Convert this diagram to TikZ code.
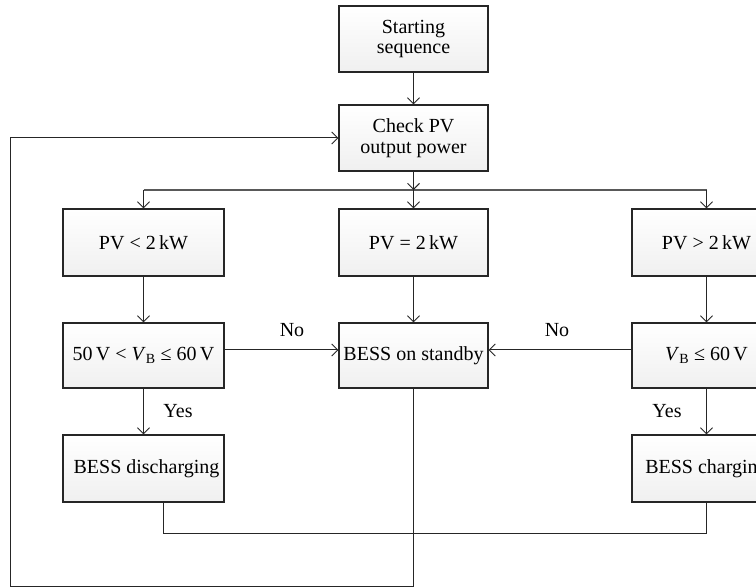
\documentclass[tikz,border=0pt]{standalone}
\usepackage{fontspec}
\setmainfont{Liberation Serif}
\usetikzlibrary{arrows.meta,calc}
\begin{document}
\begin{tikzpicture}[x=1pt,y=-1pt,
  box/.style={draw=black!85, line width=1.1pt, top color=white, bottom color=black!6,
    inner sep=0pt, minimum height=66pt, font=\fontsize{20}{20.5}\selectfont, align=center},
  wbox/.style={box, minimum width=161pt},
  nbox/.style={box, minimum width=149pt},
  conn/.style={line width=1pt, draw=black!85},
  arr/.style={conn, -{Straight Barb[length=6pt,width=12pt]}},
  busline/.style={line width=1.8pt, draw=black!65},
  lbl/.style={font=\fontsize{20}{21}\selectfont}]
\useasboundingbox (0,0) rectangle (756,588);
\clip (0,0) rectangle (756,588);

\node[nbox] (start) at (413.5,39) {Starting\\sequence};
\node[nbox] (check) at (413.5,138) {Check PV\\output power};
\node[wbox, minimum height=67pt] (pvl) at (143.5,242.5) {PV < 2\,kW};
\node[nbox, minimum height=67pt] (pve) at (413.5,242.5) {PV = 2\,kW};
\node[nbox, minimum height=67pt] (pvg) at (706.5,242.5) {PV > 2\,kW};
\node[wbox, minimum height=65pt] (vl) at (143.5,355.5) {50\,V < \textit{V}\textsubscript{B} ≤ 60\,V};
\node[nbox, minimum height=65pt] (stby) at (413.5,355.5) {BESS on standby};
\node[nbox, minimum height=65pt] (vg) at (706.5,355.5) {\textit{V}\textsubscript{B} ≤ 60\,V};
\node[wbox, minimum height=67pt] (dis) at (143.5,468.5) {\hspace*{6pt}BESS discharging};
\node[nbox, minimum height=67pt] (chg) at (706.5,468.5) {BESS charging};

\node[lbl] (no1) at (292,330) {No};
\node[lbl] (no2) at (557,330) {No};
\node[lbl] (yes1) at (178,411) {Yes};
\node[lbl] (yes2) at (667,411) {Yes};

\coordinate (bus) at (0,190);
\coordinate (dj) at (163,533);
\coordinate (lb) at (10,586);

\draw[arr] (start) -- (check);
\draw[busline] (pvl.north |- bus) -- (pvg.north |- bus);
\draw[arr] (check.south) -- (check.south |- bus);
\foreach \n in {pvl,pve,pvg} \draw[arr] (\n.north |- bus) -- (\n.north);
\draw[arr] (pvl.south) -- (vl.north);
\draw[arr] (pve.south) -- (stby.north);
\draw[arr] (pvg.south) -- (vg.north);
\draw[arr] ([yshift=5.5pt]vl.east) -- ([yshift=5.5pt]stby.west);
\draw[arr] ([yshift=5.5pt]vg.west) -- ([yshift=5.5pt]stby.east);
\draw[arr] (vl.south) -- (dis.north);
\draw[arr] (vg.south) -- (chg.north);
\draw[conn] (dis.south -| dj) -- (dj) -- (chg.south |- dj) -- (chg.south);
\draw[arr] (stby.south) -- (stby.south |- lb) -- (lb) -- (lb |- check) -- (check.west);
\end{tikzpicture}
\end{document}
